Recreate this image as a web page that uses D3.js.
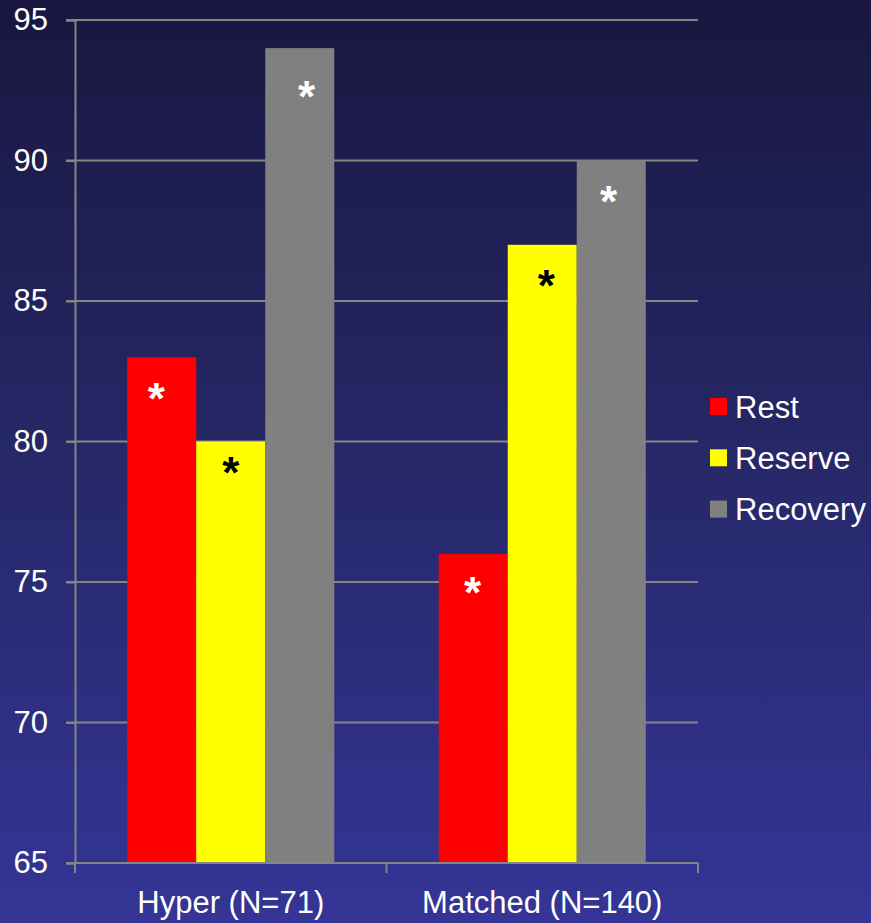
<!DOCTYPE html>
<html><head><meta charset="utf-8">
<script src="https://cdn.jsdelivr.net/npm/d3@7/dist/d3.min.js"></script>
<style>body{margin:0;background:#1a1a45;}svg{display:block;}text{font-family:"Liberation Sans",Arial,sans-serif;}</style>
</head><body>
<script>
const categories = ["Hyper (N=71)", "Matched (N=140)"];
const seriesNames = ["Rest", "Reserve", "Recovery"];
const restValues = [83, 76];
const reserveValues = [80, 87];
const recoveryValues = [94, 90];
const seriesColors = ["#ff0000", "#ffff00", "#808080"];
const starColors = ["#ffffff", "#000000", "#ffffff"];
// level (in data units) at which each "*" annotation sits, per series per category
const restStarLevels = [81.7, 74.8];
const reserveStarLevels = [79.05, 85.7];
const recoveryStarLevels = [92.45, 88.7];
// horizontal nudge of each "*" as a fraction of bar width
const restStarShift = [-0.08, -0.01];
const reserveStarShift = [0.0, 0.06];
const recoveryStarShift = [0.1, -0.04];
const yTicks = [65, 70, 75, 80, 85, 90, 95];

(function () {
const W = 871, H = 923;
const svg = d3.select("body").append("svg").attr("width", W).attr("height", H);
const defs = svg.append("defs");
const grad = defs.append("linearGradient").attr("id", "bg").attr("x1", 0).attr("y1", 0).attr("x2", 0).attr("y2", 1);
grad.append("stop").attr("offset", "0%").attr("stop-color", "#191740");
grad.append("stop").attr("offset", "50%").attr("stop-color", "#262868");
grad.append("stop").attr("offset", "100%").attr("stop-color", "#343596");
svg.append("rect").attr("width", W).attr("height", H).attr("fill", "url(#bg)");

const pLeft = 75, pRight = 698, pTop = 20, pBottom = 863;
const y = d3.scaleLinear().domain([65, 95]).range([pBottom, pTop]);
const x0 = d3.scaleBand().domain(categories).range([pLeft, pRight]).paddingInner(0).paddingOuter(0);
const x1 = d3.scaleBand().domain(seriesNames).range([0, x0.bandwidth()]).paddingInner(0).paddingOuter(0.757);

const seriesData = [restValues, reserveValues, recoveryValues];
const starData = [restStarLevels, reserveStarLevels, recoveryStarLevels];
const starShift = [restStarShift, reserveStarShift, recoveryStarShift];
const axisColor = "#858585";

// gridlines
svg.append("g").selectAll("line").data(yTicks).join("line")
  .attr("x1", pLeft - 9).attr("x2", pRight)
  .attr("y1", d => y(d)).attr("y2", d => y(d))
  .attr("stroke", axisColor).attr("stroke-width", 2);

// bars
const bars = [];
seriesNames.forEach((s, si) => {
  categories.forEach((c, ci) => {
    bars.push({s, si, c, ci, v: seriesData[si][ci], star: starData[si][ci], shift: starShift[si][ci]});
  });
});
svg.append("g").selectAll("rect").data(bars).join("rect")
  .attr("x", d => x0(d.c) + x1(d.s))
  .attr("width", x1.bandwidth())
  .attr("y", d => y(d.v))
  .attr("height", d => y(65) - y(d.v))
  .attr("fill", d => seriesColors[d.si]);

// asterisks
svg.append("g").selectAll("text").data(bars).join("text")
  .attr("x", d => x0(d.c) + x1(d.s) + x1.bandwidth() * (0.5 + d.shift))
  .attr("y", d => y(d.star) + 20)
  .attr("text-anchor", "middle")
  .attr("font-size", 44).attr("font-weight", "bold")
  .attr("fill", d => starColors[d.si])
  .text("*");

// y axis
const yAxis = svg.append("g").attr("transform", `translate(${pLeft},0)`)
  .call(d3.axisLeft(y).tickValues(yTicks).tickSize(9).tickPadding(18).tickFormat(d3.format("d")));
yAxis.select(".domain").attr("stroke", axisColor).attr("stroke-width", 2);
yAxis.selectAll(".tick line").attr("stroke", axisColor).attr("stroke-width", 2);
yAxis.selectAll(".tick text").attr("fill", "#ffffff").attr("font-size", 31)
  .attr("font-family", "'Liberation Sans', Arial, sans-serif");

// x axis
const xAxis = svg.append("g").attr("transform", `translate(0,${pBottom})`)
  .call(d3.axisBottom(x0).tickSize(0).tickPadding(28));
xAxis.select(".domain").remove();
xAxis.selectAll(".tick text").attr("fill", "#ffffff").attr("font-size", 31)
  .attr("font-family", "'Liberation Sans', Arial, sans-serif");
svg.append("line").attr("x1", pLeft - 9).attr("x2", pRight).attr("y1", pBottom).attr("y2", pBottom)
  .attr("stroke", axisColor).attr("stroke-width", 2);
const bounds = categories.map(c => x0(c)).concat([x0.range()[1]]);
svg.append("g").selectAll("line").data(bounds).join("line")
  .attr("x1", d => d).attr("x2", d => d).attr("y1", pBottom).attr("y2", pBottom + 10)
  .attr("stroke", axisColor).attr("stroke-width", 2);

// legend
const legend = svg.append("g").attr("transform", "translate(710,398)");
const li = legend.selectAll("g").data(seriesNames).join("g")
  .attr("transform", (d, i) => `translate(0,${i * 51.3})`);
li.append("rect").attr("width", 17).attr("height", 17).attr("fill", (d, i) => seriesColors[i]);
li.append("text").attr("x", 25).attr("y", 19.5).attr("fill", "#ffffff").attr("font-size", 31).text(d => d);
})();
</script>
</body></html>
